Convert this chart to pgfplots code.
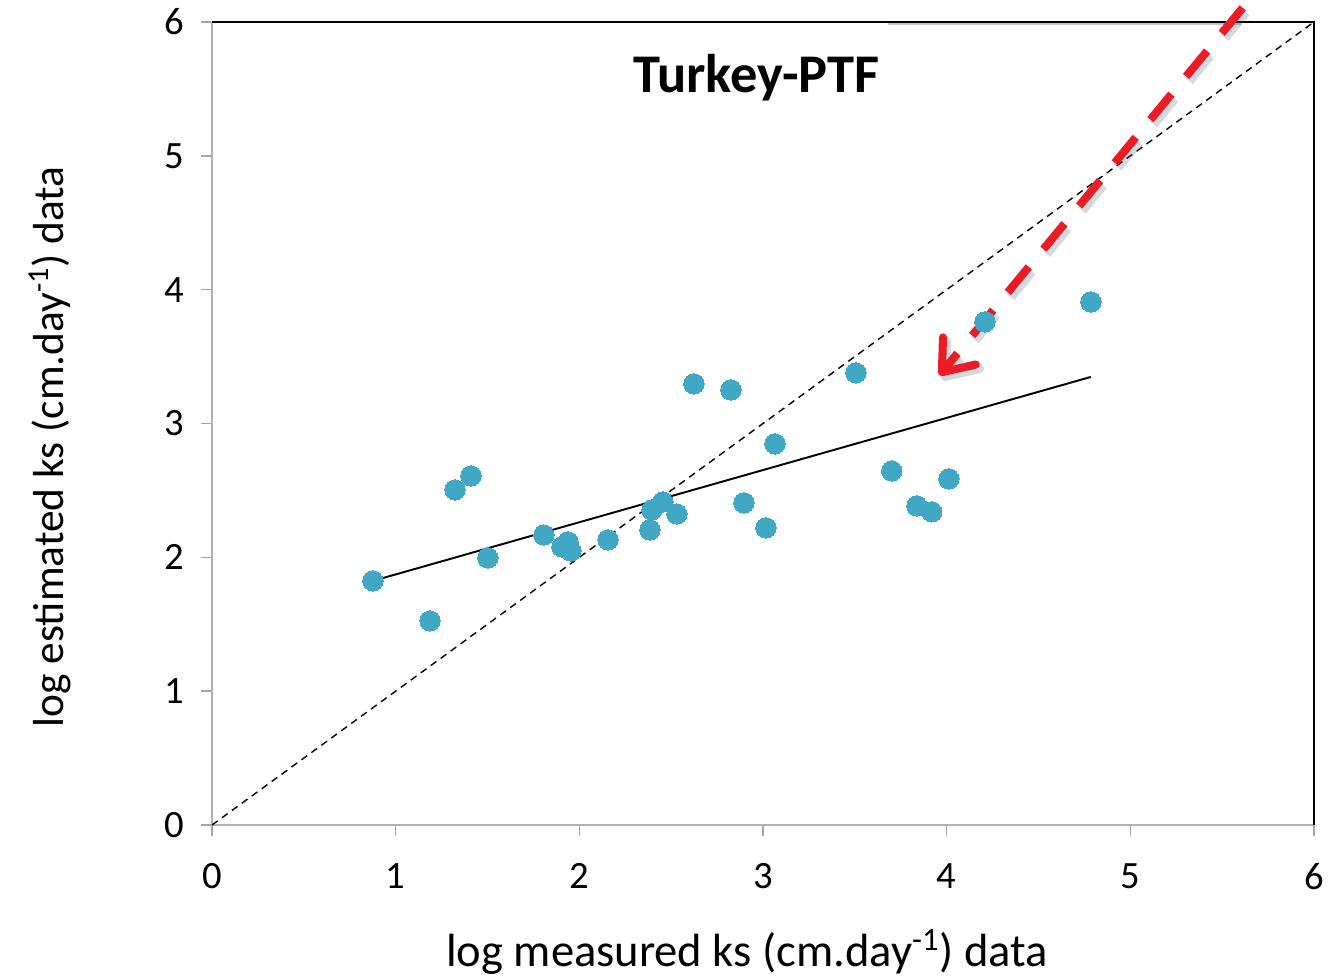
\documentclass[border=0pt]{standalone}
\usepackage{pgfplots}
\pgfplotsset{compat=1.18}
\usetikzlibrary{arrows.meta}
\usepackage{fontspec}
\setmainfont{Carlito}
\definecolor{pt}{RGB}{64,168,196}
\definecolor{ar}{RGB}{237,28,36}
\definecolor{sh}{RGB}{60,85,115}
\begin{document}
\begin{tikzpicture}
\path[use as bounding box] (-4.24,-3.04) rectangle (22.32,16.5);
\begin{axis}[
  at={(0,0)}, anchor=south west,
  width=22.04cm, height=16.06cm, scale only axis,
  xmin=0, xmax=6, ymin=0, ymax=6,
  xtick={0,1,2,3,4,5,6}, ytick={0,1,2,3,4,5,6},
  tick pos=left, tick align=outside, major tick length=0.22cm,
  tick style={gray!70, line width=0.8pt},
  axis line style={gray!60, line width=1pt},
  /pgf/number format/assume math mode=true,
  ticklabel style={font=\fontsize{22}{26}\selectfont},
  xticklabel style={yshift=-0.42cm},
  yticklabel style={xshift=-0.22cm},
  xlabel={log measured ks (cm.day\textsuperscript{-1}) data},
  ylabel={log estimated ks (cm.day\textsuperscript{-1}) data},
  xlabel style={font=\fontsize{26.5}{30}\selectfont, at={(axis description cs:0.4855,-0.158)}, anchor=center},
  ylabel style={font=\fontsize{24.7}{28}\selectfont, at={(axis description cs:-0.147,0.471)}, anchor=center},
  clip=false,
]
\draw[black, line width=1pt] (rel axis cs:0,1) -- (rel axis cs:1,1) -- (rel axis cs:1,0);
\draw[gray!45, line width=1.5pt] (axis cs:3.68,5.985) -- (axis cs:5.6,5.985);
\addplot[pt, only marks, mark=*, mark size=5.8pt, mark options={draw=pt, fill=pt, line width=0pt}] coordinates {
(0.876,1.824) (1.187,1.525) (1.323,2.504) (1.41,2.608) (1.502,1.996)
(1.807,2.167) (1.905,2.078) (1.938,2.115) (1.954,2.048) (2.156,2.130)
(2.384,2.205) (2.395,2.354) (2.455,2.414) (2.531,2.324) (2.624,3.296)
(2.825,3.251) (2.896,2.407) (3.016,2.220) (3.065,2.848) (3.506,3.378)
(3.701,2.646) (3.838,2.384) (3.919,2.340) (4.012,2.586) (4.208,3.759)
(4.785,3.909)
};
\addplot[black, line width=1.1pt] coordinates {(0.876,1.824) (4.785,3.348)};
\addplot[black, line width=0.8pt, dash pattern=on 4pt off 3pt] coordinates {(0,0) (6,6)};
\begin{scope}[shift={(0.06cm,-0.09cm)}]
\draw[sh, opacity=0.22, line width=5.5pt, dash pattern=on 0.66cm off 0.46cm,
  -{Straight Barb[length=0.55cm, width=0.85cm, round]}] (axis cs:5.612,6.106) -- (axis cs:3.96,3.36);
\end{scope}
\draw[ar, line width=4.6pt, dash pattern=on 0.66cm off 0.46cm,
  -{Straight Barb[length=0.55cm, width=0.85cm, round]}] (axis cs:5.612,6.106) -- (axis cs:3.96,3.36);
\node[font=\bfseries\fontsize{31}{35}\selectfont] at (axis description cs:0.494,0.931) {Turkey-PTF};
\end{axis}
\end{tikzpicture}
\end{document}
